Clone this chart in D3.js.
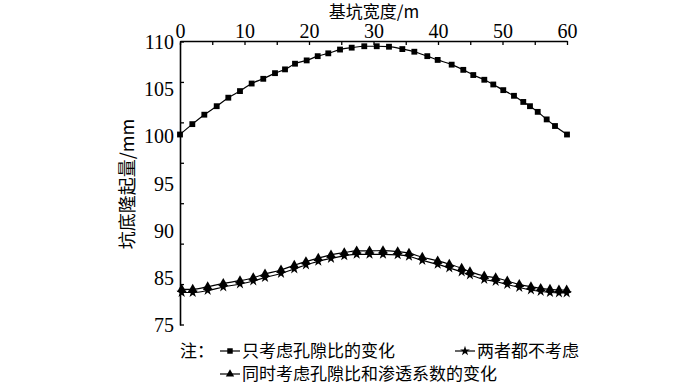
<!DOCTYPE html>
<html>
<head>
<meta charset="utf-8">
<script src="https://cdn.jsdelivr.net/npm/d3@7"></script>
<style>
  body { margin: 0; background: #fff; }
  svg { display: block; }
</style>
</head>
<body>
<svg width="700" height="384"></svg>
<script>
// top curve (squares): width / heave
var xSq = [0, 1.91, 3.77, 5.69, 7.49, 9.30, 11.11, 12.91, 14.73, 16.28, 17.83, 19.64, 21.35, 22.99, 24.81, 26.62, 28.57, 30.50,
  32.40, 34.47, 36.33, 38.34, 39.95, 42.12, 43.92, 45.47, 47.18, 48.57, 50.12, 51.78, 53.22, 54.26, 55.46, 56.85, 58.14, 60];
var ySq = [100.2, 101.3, 102.3, 103.2, 104.1, 104.8, 105.6, 106.1, 106.7, 107.1, 107.7, 108.05, 108.5, 108.8, 109.2, 109.4, 109.55, 109.55,
  109.5, 109.25, 108.97, 108.5, 108.1, 107.6, 107.05, 106.5, 106.0, 105.5, 104.9, 104.3, 103.65, 103.2, 102.6, 101.8, 101.1, 100.2];

// lower curves (triangles / stars)
var xLow = [0.26, 1.97, 4.29, 6.71, 9.30, 11.36, 13.18, 15.66, 17.72, 19.53, 21.44, 23.41, 25.47, 27.39, 29.38, 31.47,
  33.75, 35.50, 37.56, 39.95, 41.75, 43.67, 44.95, 47.17, 48.94, 50.74, 52.60, 54.41, 55.92, 57.36, 58.75, 59.95];
var yTri = [82.60, 82.60, 83.15, 83.87, 84.43, 85.03, 85.43, 85.85, 86.35, 86.73, 87.10, 87.45, 87.69, 87.87, 87.87, 87.90,
  87.80, 87.63, 87.20, 86.81, 86.46, 86.03, 85.67, 85.21, 85.03, 84.36, 83.66, 83.15, 82.81, 82.60, 82.45, 82.45];
var yStar = [81.91, 81.91, 82.34, 83.09, 83.72, 84.36, 85.05, 85.48, 85.96, 86.38, 86.76, 87.07, 87.34, 87.50, 87.50, 87.50,
  87.45, 87.29, 86.86, 86.44, 86.06, 85.64, 85.32, 84.68, 84.26, 83.62, 82.98, 82.45, 82.13, 81.91, 81.81, 81.81];

var xTicks = [0, 5, 10, 15, 20, 25, 30, 35, 40, 45, 50, 55, 60];
var yLabels = [110, 105, 100, 95, 90, 85, 75];
var yTicks = [75, 80, 85, 90, 95, 100, 105, 110];

var svg = d3.select("svg");
var serif = "'Liberation Serif', 'Times New Roman', serif";
var cjk = "'Noto Sans CJK SC', sans-serif";

var x = d3.scaleLinear().domain([0, 60]).range([180, 567]);
// label positions on the printed axis (80 label missing, 75 at bottom)
var y = d3.scaleLinear().domain([75, 85, 110]).range([325, 278, 42]);
// evenly spaced tick marks on the axis line
var yt = d3.scaleLinear().domain([75, 110]).range([325, 42]);

// top axis
var gx = svg.append("g").attr("transform", "translate(0,41)")
  .call(d3.axisTop(x).tickValues(xTicks).tickSizeInner(-4).tickSizeOuter(0).tickPadding(3)
    .tickFormat(function(d){ return d % 10 === 0 ? d : ""; }));
gx.selectAll("text").style("font-family", serif).style("font-size", "20px").attr("fill", "#000");
gx.selectAll("line").attr("stroke", "#000").attr("stroke-width", 1.3);
gx.select(".domain").attr("stroke", "#000").attr("stroke-width", 1.6);

// left axis
var gy = svg.append("g").attr("transform", "translate(180,0)")
  .call(d3.axisLeft(y).tickValues(yLabels).tickSize(0).tickPadding(6));
gy.selectAll("text").style("font-family", serif).style("font-size", "20px").attr("fill", "#000");
gy.select(".domain").attr("stroke", "#000").attr("stroke-width", 1.6);
svg.append("g").selectAll("line")
  .data(yTicks)
  .enter()
  .append("line")
  .attr("x1", 180).attr("x2", 184)
  .attr("y1", function(d){ return yt(d); })
  .attr("y2", function(d){ return yt(d); })
  .attr("stroke", "#000").attr("stroke-width", 1.3);

// titles
svg.append("text").attr("x", 374).attr("y", 18).attr("text-anchor", "middle")
  .style("font-family", cjk).style("font-size", "17px").text("基坑宽度/m");
svg.append("text").attr("transform", "translate(134,184) rotate(-90)").attr("text-anchor", "middle")
  .style("font-family", cjk).style("font-size", "18px").text("坑底隆起量/mm");

var line = d3.line()
  .x(function(d){ return x(d[0]); })
  .y(function(d){ return y(d[1]); })
  .curve(d3.curveMonotoneX);

var series = [
  { xs: xSq, ys: ySq, sym: d3.symbolSquare, size: 34 },
  { xs: xLow, ys: yStar, sym: d3.symbolStar, size: 34 },
  { xs: xLow, ys: yTri, sym: d3.symbolTriangle, size: 38 }
];

series.forEach(function(s){
  var pts = s.xs.map(function(v, i){ return [v, s.ys[i]]; });
  svg.append("path").datum(pts)
    .attr("d", line).attr("fill", "none").attr("stroke", "#000").attr("stroke-width", 1.2);
  svg.append("g").selectAll("path")
    .data(pts)
    .enter()
    .append("path")
    .attr("d", d3.symbol().type(s.sym).size(s.size))
    .attr("transform", function(d){ return "translate(" + x(d[0]) + "," + y(d[1]) + ")"; })
    .attr("fill", "#000");
});

// legend
var legend = [
  { text: "只考虑孔隙比的变化", sym: d3.symbolSquare, lx: 220, ly: 351 },
  { text: "两者都不考虑", sym: d3.symbolStar, lx: 455, ly: 351 },
  { text: "同时考虑孔隙比和渗透系数的变化", sym: d3.symbolTriangle, lx: 220, ly: 374 }
];
svg.append("text").attr("x", 180).attr("y", 357)
  .style("font-family", cjk).style("font-size", "17px").text("注：");
legend.forEach(function(l){
  svg.append("line").attr("x1", l.lx).attr("x2", l.lx + 20).attr("y1", l.ly).attr("y2", l.ly)
    .attr("stroke", "#000").attr("stroke-width", 1.2);
  svg.append("path").attr("d", d3.symbol().type(l.sym).size(30))
    .attr("transform", "translate(" + (l.lx + 10) + "," + l.ly + ")").attr("fill", "#000");
  svg.append("text").attr("x", l.lx + 22).attr("y", l.ly + 6)
    .style("font-family", cjk).style("font-size", "17px").text(l.text);
});
</script>
</body>
</html>
